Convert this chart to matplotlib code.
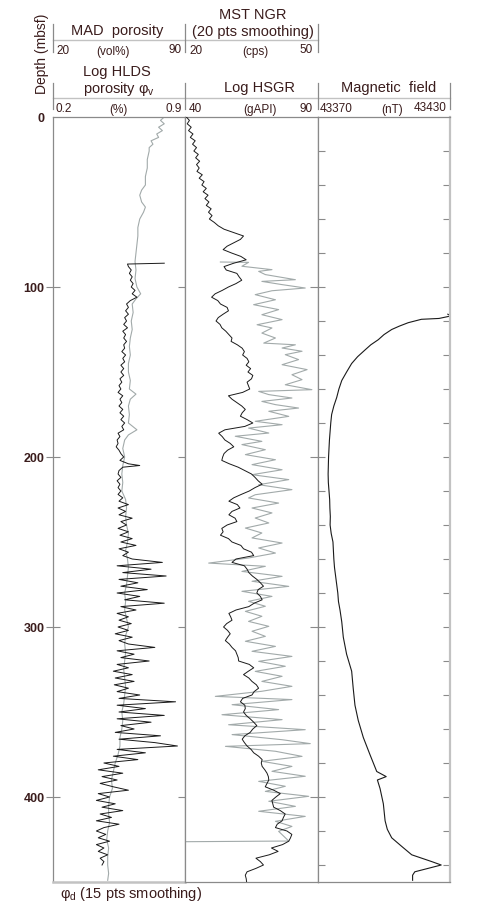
import matplotlib.pyplot as plt
from matplotlib.lines import Line2D

plt.rcParams['font.family'] = ['Liberation Sans', 'DejaVu Sans']

# ---- data ----
# panel 1: phi_d (15 pts smoothing), MAD porosity scale (vol%)
PHID_DEPTH = [0, 2, 4, 6, 8, 10, 12, 14, 16, 18, 20, 25, 30, 35, 40, 43, 46, 50, 53, 56,
              60, 65, 70, 75, 80, 85, 90, 95, 100, 104, 107, 110, 115, 120, 125, 130, 135, 140, 145, 150,
              155, 160, 163, 166, 170, 175, 180, 184, 187, 190, 195, 200, 205, 210, 215, 220, 225, 230, 235, 240,
              245, 250, 255, 260, 265, 270, 275, 280, 285, 290, 295, 300, 305, 310, 315, 320, 325, 330, 335, 340,
              345, 350, 355, 360, 365, 370, 375, 380, 385, 390, 395, 400, 405, 410, 415, 420, 425, 430, 435, 440,
              445, 449]
PHID = [79, 77, 79, 76, 78, 75, 76, 72, 73, 71, 71, 70, 70, 69, 69, 67, 66, 67, 69, 68,
        66, 65, 65, 64.5, 64, 63.5, 64, 63.5, 64.5, 66.5, 64, 62, 62.5, 61.5, 62, 61, 60.5, 61, 60, 60,
        61, 60.5, 64, 61, 60, 60.5, 60, 64.5, 60, 58, 57, 58, 57, 56.5, 57, 56.5, 58.5, 59, 58.5, 59,
        60, 59.5, 58.5, 59.5, 60, 59.5, 59, 58, 58.5, 58, 59, 60, 58.5, 58, 58.5, 58, 57.5, 58, 58.5, 58,
        57.5, 56.5, 57, 56.5, 55.5, 55.5, 54.5, 53, 52, 51, 51.5, 50, 49.5, 49.5, 50, 49, 48.5, 49.5, 49, 49,
        49.5, 49]

# panel 1: log HLDS porosity (fraction)
HLDS_DEPTH = [86, 86.5, 88, 90, 92, 94, 96, 98, 100, 102, 104, 106, 108, 110, 112, 114, 116, 118, 120, 122,
              124, 126, 128, 130, 132, 134, 136, 138, 140, 142, 144, 146, 148, 150, 152, 154, 156, 158, 160, 162,
              164, 166, 168, 170, 172, 174, 176, 178, 180, 182, 184, 186, 188, 190, 192, 194, 196, 198, 200, 202,
              204, 205, 206, 208, 210, 212, 214, 216, 218, 220, 222,
              224, 226, 228, 230, 232, 234, 236, 238, 240, 242, 244, 246, 248, 250, 252, 254, 256, 258, 260, 262,
              264, 266, 268, 270, 272, 274, 276, 278, 280, 282, 284, 286, 288, 290, 292, 294, 296, 298, 300, 302,
              304, 306, 308, 310, 312, 314, 316, 318, 320, 322, 324, 326, 328, 330, 332, 334, 336, 338, 340, 342,
              344, 346, 348, 350, 352, 354, 356, 358, 360, 362, 364, 366, 368, 370, 372, 374, 376, 378, 380, 382,
              384, 386, 388, 390, 392, 394, 396, 398, 400, 402, 404, 406, 408, 410, 412, 414, 416, 418, 420, 422,
              424, 426, 428, 430, 432, 434, 436, 438, 440]
HLDS = [0.79, 0.595, 0.60, 0.615, 0.605, 0.62, 0.61, 0.625, 0.615, 0.635, 0.62, 0.645, 0.61, 0.59, 0.60, 0.585, 0.60, 0.58, 0.59, 0.575,
        0.595, 0.57, 0.585, 0.575, 0.59, 0.575, 0.58, 0.565, 0.585, 0.57, 0.58, 0.56, 0.575, 0.56, 0.575, 0.555, 0.565, 0.55, 0.56, 0.545,
        0.57, 0.555, 0.565, 0.55, 0.57, 0.555, 0.575, 0.56, 0.58, 0.565, 0.575, 0.545, 0.555, 0.54, 0.545, 0.535, 0.55, 0.56, 0.575, 0.555,
        0.60, 0.66, 0.57, 0.55, 0.545, 0.56, 0.54, 0.555, 0.545, 0.56, 0.545,
        0.57, 0.55, 0.60, 0.545, 0.585, 0.55, 0.62, 0.56, 0.59, 0.545, 0.60, 0.555, 0.62, 0.56, 0.64, 0.55, 0.60, 0.57, 0.62, 0.78,
        0.54, 0.72, 0.57, 0.80, 0.55, 0.65, 0.56, 0.70, 0.54, 0.66, 0.58, 0.79, 0.56, 0.64, 0.54, 0.60, 0.55, 0.615, 0.545, 0.60,
        0.53, 0.62, 0.55, 0.60, 0.74, 0.54, 0.63, 0.56, 0.71, 0.54, 0.60, 0.52, 0.62, 0.53, 0.63, 0.525, 0.60, 0.54, 0.66, 0.55,
        0.85, 0.54, 0.69, 0.55, 0.79, 0.54, 0.72, 0.56, 0.63, 0.53, 0.77, 0.55, 0.74, 0.86, 0.54, 0.69, 0.52, 0.65, 0.47, 0.55,
        0.44, 0.57, 0.46, 0.54, 0.45, 0.52, 0.60, 0.44, 0.50, 0.43, 0.53, 0.46, 0.57, 0.45, 0.51, 0.43, 0.55, 0.47, 0.43, 0.48,
        0.44, 0.50, 0.43, 0.47, 0.44, 0.49, 0.45, 0.47, 0.46]

# panel 2: MST NGR, 20 pts smoothing (cps)
NGR_DEPTH = [0, 2, 4, 6, 8, 10, 12, 14, 16, 18, 20, 22, 24, 26, 28, 30, 32, 34, 36, 38,
             40, 42, 44, 46, 48, 50, 52, 54, 56, 58, 60, 62, 64, 66, 68, 70, 72, 74, 76, 78,
             80, 82, 84, 86, 88, 90, 92, 94, 96, 98, 100, 102, 104, 106, 108, 110, 112, 114, 116, 118,
             120, 122, 124, 126, 128, 130, 132, 134, 136, 138, 140, 142, 144, 146, 148, 150, 152, 154, 156, 158,
             160, 162, 164, 166, 168, 170, 172, 174, 176, 178, 180, 182, 184, 186, 188, 190, 192, 194, 196, 198,
             200, 202, 204, 206, 208, 210, 212, 214, 216, 218, 220, 222, 224, 226, 228, 230, 232, 234, 236, 238,
             240, 242, 244, 246, 248, 250, 252, 254, 256, 258, 260, 262, 264, 266, 268, 270, 272, 274, 276, 278,
             280, 282, 284, 286, 288, 290, 292, 294, 296, 298, 300, 302, 304, 306, 308, 310, 312, 314, 316, 318,
             320, 322, 324, 326, 328, 330, 332, 334, 336, 338, 340, 342, 344, 346, 348, 350, 352, 354, 356, 358,
             360, 362, 364, 366, 368, 370, 372, 374, 376, 378, 380, 382, 384, 386, 388, 390, 392, 394, 396, 398,
             400, 402, 404, 406, 408, 410, 412, 414, 416, 418, 420, 422, 424, 426, 428, 430, 432, 434, 436, 438,
             440, 442, 444, 446, 448, 450]
NGR = [20.3, 21.0, 20.5, 21.4, 20.8, 21.8, 21.2, 22.3, 21.7, 22.6, 22.0, 23.0, 22.4, 23.3, 22.6, 23.2, 22.7, 23.9, 23.2, 24.3,
       23.8, 24.8, 24.1, 25.2, 24.5, 25.4, 24.8, 25.9, 25.3, 26.1, 25.5, 26.6, 27.5, 28.8, 31.0, 33.2, 32.5, 31.0, 29.5, 28.6,
       30.5, 32.6, 33.8, 31.0, 28.8, 29.3, 31.7, 32.2, 32.8, 31.5, 29.8, 28.4, 26.8, 26.0, 27.4, 28.0, 29.5, 29.8, 28.6, 27.5,
       27.0, 27.9, 28.3, 29.2, 29.9, 30.6, 30.4, 31.8, 32.9, 33.4, 33.0, 34.0, 34.4, 33.8, 34.8, 34.2, 35.3, 35.0, 34.0, 34.3,
       34.6, 33.0, 29.8, 30.6, 31.7, 32.8, 33.6, 32.9, 32.5, 34.0, 35.3, 33.5, 29.0, 27.6, 28.4, 29.0, 30.2, 31.0, 29.6, 28.8,
       28.5, 28.3, 30.0, 32.0, 33.5, 35.0, 35.8, 36.5, 37.4, 35.8, 34.5, 32.7, 31.0, 29.9, 31.8, 32.4, 30.6, 29.9, 31.3, 31.7,
       29.5, 28.3, 28.6, 28.0, 29.8, 30.6, 32.6, 33.2, 35.0, 35.5, 31.5, 30.6, 33.4, 34.0, 34.4, 35.2, 36.2, 37.0, 37.7, 36.5,
       36.2, 37.0, 37.4, 35.6, 34.4, 31.5, 29.9, 30.3, 30.6, 29.4, 28.7, 29.6, 30.2, 29.6, 29.1, 30.0, 30.6, 31.4, 31.7, 32.0,
       32.1, 34.5, 35.5, 34.3, 33.2, 34.4, 35.1, 36.1, 36.6, 35.6, 35.1, 33.0, 32.5, 33.5, 33.6, 33.2, 33.8, 34.7, 35.5, 36.2,
       35.3, 34.7, 33.5, 32.9, 33.4, 34.0, 34.9, 35.5, 36.6, 37.4, 37.2, 37.4, 38.0, 38.5, 38.8, 38.9, 38.5, 38.1, 40.0, 41.5,
       40.5, 39.6, 39.8, 40.0, 41.5, 42.6, 42.2, 41.9, 40.8, 40.4, 43.0, 44.1, 43.8, 43.4, 42.0, 39.5, 41.0, 39.0, 36.0, 37.0,
       37.7, 36.0, 34.0, 33.6, 33.8, 33.9]

# panel 2: log HSGR (gAPI)
HSGR_DEPTH = [85.3, 85.5, 87.8, 89.8, 90.8, 92.7, 95.7, 96.7, 98.6, 100.6, 102.2, 104.5, 107.5, 110.4, 113.3, 116.3,
              119.2, 122.2, 124.1, 127.1, 130, 133, 134, 135.9, 137.8, 139.8, 142.7, 145.7, 148.6, 151.6, 154.5,
              157.5, 160.4, 161.4, 163.3, 165.3, 167.3, 169.2, 171.2, 173.1, 176.1, 179, 181, 183, 185.9, 187.8,
              190.8, 192.7, 195.7, 198.6, 201.6, 204.5, 207.5, 210.4, 213.3, 216.3, 219.2, 222.2, 224.1, 227.1,
              230, 232.9, 235.9, 238.8, 241.8, 244.7, 247.6, 250.6, 253.5, 256.5, 259.4, 262.4, 264.3, 267.3,
              270.2, 273.1, 276.1, 279, 282, 284.9, 287.8, 290.8, 293.7, 296.7, 299.6, 302.5, 305.5, 308.4,
              311.4, 314.3, 317.3, 320.2, 323.1, 326.1, 329, 332, 334.9, 337.8, 340.8, 342.7, 345.7, 348.6,
              351.6, 354.5, 357.5, 360.4, 363.3, 366.3, 368.6, 370.2, 373.1, 376.1, 379, 382, 384.9, 387.8,
              390.8, 393.7, 396.7, 399.6, 402.5, 405.5, 408.4, 411.4, 414.3, 417.3, 420.2, 425.9, 426.3]
HSGR = [53.3, 63.9, 61.4, 72.7, 67.7, 70.2, 81.5, 68.9, 76.5, 85.2, 72.7, 66.4, 74.0, 65.8, 75.2, 68.9,
        76.5, 67.1, 72.7, 68.9, 74.0, 69.6, 81.5, 76.5, 84.0, 77.7, 82.7, 76.5, 85.9, 80.2, 84.0,
        77.7, 87.7, 67.7, 71.5, 80.2, 68.9, 74.0, 82.7, 71.5, 79.0, 66.4, 76.5, 63.9, 71.5, 58.9,
        68.9, 61.4, 70.2, 62.7, 74.0, 65.2, 76.5, 65.2, 79.0, 67.7, 80.2, 66.4, 63.9, 75.2,
        65.2, 72.7, 66.4, 71.5, 62.7, 68.9, 65.2, 76.5, 67.7, 74.0, 63.9, 48.9, 70.2, 61.4,
        76.5, 65.2, 79.0, 61.4, 72.7, 63.9, 70.2, 62.7, 68.9, 63.9, 71.5, 65.2, 70.2, 62.7,
        74.0, 65.2, 80.2, 67.7, 77.7, 66.4, 76.5, 68.9, 80.2, 68.9, 51.4, 80.2, 57.7, 75.2,
        53.9, 76.5, 56.4, 85.2, 57.7, 76.5, 87.1, 55.2, 74.0, 84.0, 68.9, 80.2, 72.7, 85.2,
        67.7, 77.7, 70.2, 86.5, 71.5, 81.5, 67.7, 85.2, 74.0, 80.2, 75.2, 79.0, 40.1]

# panel 3: magnetic field (nT)
MAG_DEPTH = [116, 117, 118.5, 119, 121, 123, 125, 128, 131, 134, 137, 141, 145, 150, 155, 160, 165, 170, 175, 180,
             185, 190, 195, 200, 205, 210, 215, 220, 225, 230, 235, 240, 245, 250, 255, 260, 265, 270, 275, 280,
             285, 290, 297, 306, 316, 326, 336, 346, 355, 365, 375, 385, 388, 390, 395, 404, 414, 419, 424, 429,
             434, 438, 440, 442, 444, 446, 449]
MAG = [43429, 43430.5, 43425, 43417, 43411, 43407, 43403.5, 43400, 43397.4, 43394, 43391.4, 43388, 43385.3, 43383,
       43380.8, 43379.5, 43378.5, 43377.2, 43376.2, 43375.8, 43375.5, 43375.2, 43375, 43374.8, 43374.7, 43374.6,
       43374.7, 43375, 43375.3, 43375.4, 43375.6, 43375.5, 43376, 43376.8, 43377, 43377.2, 43377.5, 43378, 43378.5,
       43379, 43379.3, 43380, 43380.8, 43381.5, 43383, 43385.3, 43386, 43386.8, 43388.3, 43390.6, 43393.6, 43396.7,
       43401, 43397, 43398.2, 43399.7, 43400.5, 43401.5, 43403.5, 43408, 43412.6, 43421.7, 43426, 43420, 43414,
       43413, 43413]

DEPTH_TICKS = [0, 100, 200, 300, 400]

# ---- figure layout (pixels) ----
W, H = 479, 920
TOP, BOT = 118, 883
PANELS = [(53, 185), (185, 318), (318, 450)]
TXT = '#3a1c1c'
FRAME = '#8a8a8a'
LIGHT = '#c2c2c2'
GRAY_LINE = '#a2aaaa'
BLACK_LINE = '#1a1a1a'
SCALE_SIZE = 8.5


def fx(px):
    return px / W


def fy(py):
    return 1 - py / H


fig = plt.figure(figsize=(W / 100, H / 100), dpi=100)
axs = []
for x0, x1 in PANELS:
    ax = fig.add_axes([fx(x0), fy(BOT), (x1 - x0) / W, (BOT - TOP) / H])
    ax.set_ylim(450, 0)
    ax.set_xticks([])
    for s in ax.spines.values():
        s.set_color(FRAME)
        s.set_linewidth(0.9)
    axs.append(ax)
ax1, ax2, ax3 = axs

# panel 1
ax1.set_xlim(20, 90)
ax1.plot(PHID, PHID_DEPTH, color=GRAY_LINE, lw=0.8)
ax1t = ax1.twiny()
ax1t.set_xlim(0.2, 0.9)
ax1t.axis('off')
ax1t.plot(HLDS, HLDS_DEPTH, color=BLACK_LINE, lw=0.7)
ax1.set_yticks(DEPTH_TICKS)
ax1.set_yticklabels([str(t) for t in DEPTH_TICKS], fontsize=9, fontweight='bold', color=TXT)
ax1.tick_params(axis='y', direction='inout', length=10, left=True, right=True, color=FRAME, pad=1)
ax1.yaxis.get_major_ticks()[0].tick1line.set_visible(False)
ax1.yaxis.get_major_ticks()[0].tick2line.set_visible(False)
ax1.spines['bottom'].set_color(LIGHT)
ax1.spines['bottom'].set_linewidth(1.8)

# panel 2
ax2.set_xlim(40, 90)
ax2.plot(HSGR, HSGR_DEPTH, color=GRAY_LINE, lw=0.8)
ax2t = ax2.twiny()
ax2t.set_xlim(20, 50)
ax2t.axis('off')
ax2t.plot(NGR, NGR_DEPTH, color=BLACK_LINE, lw=0.7)
ax2.set_yticks(DEPTH_TICKS[1:])
ax2.tick_params(axis='y', direction='inout', length=11, left=False, right=True,
                labelleft=False, color=FRAME)

# panel 3
ax3.set_xlim(43370, 43430)
ax3.plot(MAG, MAG_DEPTH, color=BLACK_LINE, lw=0.8)
ax3.set_yticks(list(range(20, 450, 20)))
ax3.tick_params(axis='y', direction='in', length=5, left=True, right=True,
                labelleft=False, color=FRAME)
ax3.spines['right'].set_color(LIGHT)
ax3.spines['right'].set_linewidth(1.6)


# ---- header ----
def hline(y, x0, x1, color=LIGHT, lw=1.0):
    fig.add_artist(Line2D([fx(x0), fx(x1)], [fy(y), fy(y)], color=color, lw=lw))


def vline(x, y0, y1, color=FRAME, lw=0.9):
    fig.add_artist(Line2D([fx(x), fx(x)], [fy(y0), fy(y1)], color=color, lw=lw))


def label(x, y, s, size=10, ha='center', **kw):
    fig.text(fx(x), fy(y), s, fontsize=size, ha=ha, va='center', color=TXT, **kw)


hline(41, 53, 318)
for x in (53, 185, 318):
    vline(x, 25, 53)
hline(99, 53, 450)
for x in (53, 185, 318, 450):
    vline(x, 84, 110)

label(117, 31, 'MAD  porosity', 10.5)
label(56, 51, '20', SCALE_SIZE, 'left')
label(113, 52, '(vol%)', SCALE_SIZE)
label(182, 50, '90', SCALE_SIZE, 'right')

label(253, 15, 'MST NGR', 10.5)
label(253, 32, '(20 pts smoothing)', 10.5)
label(189, 51, '20', SCALE_SIZE, 'left')
label(255, 52, '(cps)', SCALE_SIZE)
label(313, 50, '50', SCALE_SIZE, 'right')

label(117, 72, 'Log HLDS', 10.5)
label(119, 89, 'porosity φ$_{\\mathregular{v}}$', 10.5)
label(56, 109, '0.2', SCALE_SIZE, 'left')
label(118, 110, '(%)', SCALE_SIZE)
label(182, 109, '0.9', SCALE_SIZE, 'right')

label(260, 88, 'Log HSGR', 10.5)
label(189, 109, '40', SCALE_SIZE, 'left')
label(260, 110, '(gAPI)', SCALE_SIZE)
label(313, 109, '90', SCALE_SIZE, 'right')

label(389, 88, 'Magnetic  field', 10.5)
label(320, 109, '43370', SCALE_SIZE, 'left')
label(392, 110, '(nT)', SCALE_SIZE)
label(447, 108, '43430', SCALE_SIZE, 'right')

label(42, 54, 'Depth (mbsf)', 10, rotation=90)
label(60, 894, 'φ$_{\\mathregular{d}}$ (15 pts smoothing)', 10.5, 'left')

fig.savefig('out.png', dpi=100)
